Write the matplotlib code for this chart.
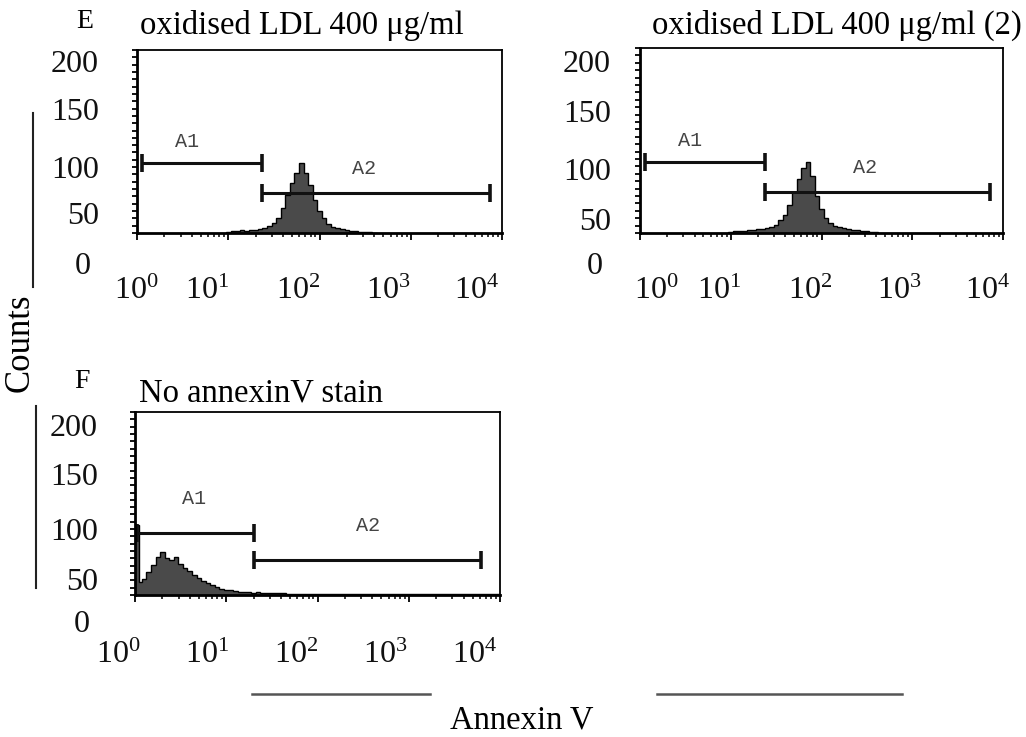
import matplotlib
matplotlib.use('Agg')
import matplotlib.pyplot as plt
from matplotlib.lines import Line2D
import numpy as np

plt.rcParams['font.family'] = ['Liberation Serif', 'DejaVu Serif']
plt.rcParams['mathtext.fontset'] = 'custom'
plt.rcParams['mathtext.rm'] = 'Liberation Serif'

# ---- data (log10 channel, counts) ----
e_chan = [1.00, 1.05, 1.10, 1.15, 1.20, 1.25, 1.30, 1.35, 1.40, 1.45, 1.50,
          1.55, 1.60, 1.65, 1.70, 1.75, 1.80, 1.85, 1.90, 1.95, 2.00, 2.05,
          2.10, 2.15, 2.20, 2.25, 2.30, 2.35, 2.40, 2.45, 2.50, 2.55, 2.60]
e_counts = [1, 2, 2, 3, 2, 3, 3, 4, 6, 8, 11,
            16, 27, 41, 55, 66, 77, 66, 52, 36, 24, 16,
            10, 7, 5, 4, 3, 2, 2, 1, 1, 1, 0]

e2_chan = [1.00, 1.05, 1.10, 1.15, 1.20, 1.25, 1.30, 1.35, 1.40, 1.45, 1.50,
           1.55, 1.60, 1.65, 1.70, 1.75, 1.80, 1.85, 1.90, 1.95, 2.00, 2.05,
           2.10, 2.15, 2.20, 2.25, 2.30, 2.35, 2.40, 2.45, 2.50, 2.55, 2.60]
e2_counts = [1, 2, 2, 2, 3, 3, 4, 4, 5, 7, 9,
             14, 20, 30, 44, 58, 70, 77, 62, 40, 26, 16,
             11, 8, 7, 5, 4, 3, 3, 2, 2, 1, 1]

# first channel is the pile-up spike at the bottom of the scale
f_chan = [0.02, 0.06, 0.10, 0.15, 0.20, 0.25, 0.30, 0.35, 0.40, 0.45, 0.50,
          0.55, 0.60, 0.65, 0.70, 0.75, 0.80, 0.85, 0.90, 0.95, 1.00, 1.05,
          1.10, 1.15, 1.20, 1.25, 1.30, 1.35, 1.40, 1.45, 1.50, 1.60, 1.70,
          1.80, 2.00, 2.20, 2.50, 3.00, 3.50, 3.95]
f_counts = [77, 14, 18, 25, 33, 41, 47, 40, 38, 41, 34,
            29, 26, 22, 19, 15, 13, 11, 9, 7, 6, 5,
            4, 3, 3, 3, 2, 3, 2, 2, 2, 2, 1,
            1, 1, 1, 1, 1, 1, 1]

# gates: (name, start, end, level) and label position
e_gates = [('A1', 1.14, 23.4, 77), ('A2', 23.4, 7400, 44)]
e_gate_labels = [('A1', 3.5, 100), ('A2', 309, 71)]
e2_gates = [('A1', 1.14, 24.0, 77), ('A2', 24.0, 7200, 44)]
e2_gate_labels = [('A1', 3.6, 100), ('A2', 302, 71)]
f_gates = [('A1', 1.05, 20.0, 68), ('A2', 20.0, 6200, 38)]
f_gate_labels = [('A1', 4.4, 106), ('A2', 355, 76)]

y_labels = ['200', '150', '100', '50', '0']
x_labels = [r'$\mathregular{10^{%d}}$' % i for i in range(5)]

W, H = 1026, 737
fig = plt.figure(figsize=(W / 100, H / 100), dpi=100)


def rect(l, t, r, b):
  return [l / W, 1 - b / H, (r - l) / W, (b - t) / H]


def ftext(x, y, s, **kw):
  fig.text(x / W, 1 - y / H, s, **kw)


def fline(xs, ys, **kw):
  fig.add_artist(Line2D([x / W for x in xs], [1 - y / H for y in ys],
                        transform=fig.transFigure, **kw))


# bin edges around the channel centres (log10 space)
def edges_of(chan):
  c = np.array(chan)
  mid = (c[1:] + c[:-1]) / 2
  first = c[0] - (c[1] - c[0]) / 2
  last = c[-1] + (c[-1] - c[-2]) / 2
  return np.concatenate([[first], mid, [last]])


# draw one histogram panel
def panel(box, chan, counts, gates, gate_labels, ylab_x, ylab_y, xlab_x, xlab_y):
  ax = fig.add_axes(rect(*box))
  edges = 10 ** edges_of(chan)
  ax.stairs(counts, edges, fill=True, color='#4a4a4a', lw=0)
  ax.stairs(counts, edges, color='black', lw=1.0)
  ax.set_xscale('log')
  ax.set_xlim(1, 1e4)
  ax.set_ylim(0, 200)
  ax.set_yticks(np.arange(0, 201, 8))
  ax.tick_params(axis='y', direction='out', length=3.5, width=1.3, labelleft=False)
  ax.tick_params(axis='x', which='major', direction='out', length=5, width=1.3,
                 labelbottom=False)
  ax.tick_params(axis='x', which='minor', direction='out', length=3, width=1.1)
  for side in ['left', 'bottom']:
    ax.spines[side].set_linewidth(2)
  for side in ['top', 'right']:
    ax.spines[side].set_linewidth(1.3)

  # gate markers
  for name, a, b, lev in gates:
    ax.plot([a, b], [lev, lev], color='#111111', lw=2.2, solid_capstyle='butt')
    ax.plot([a, b], [lev, lev], ls='none', marker='|', ms=13, mew=2.6,
            color='#111111')
  for name, gx, gy in gate_labels:
    ax.text(gx, gy, name, family='Liberation Mono', fontsize=14.5,
            color='#444444', ha='center', va='center')

  # offset tick labels, as in the scanned figure
  for lab, yy in zip(y_labels, ylab_y):
    xr = ylab_x - 8 if lab == '0' else ylab_x
    ftext(xr, yy, lab, fontsize=23, ha='right', va='center', color='#111111')
  for lab, xx in zip(x_labels, xlab_x):
    ftext(xx, xlab_y, lab, fontsize=23, ha='center', va='baseline',
          color='#111111')
  return ax


panel((137, 50, 502, 233), e_chan, e_counts, e_gates, e_gate_labels,
      99, [65, 113, 171, 217, 267], [136, 207, 298, 388, 477], 299)
panel((640, 48, 1003, 233), e2_chan, e2_counts, e2_gates, e2_gate_labels,
      611, [65, 114, 172, 223, 267], [656, 719, 810, 899, 988], 299)
panel((135, 412, 500, 595), f_chan, f_counts, f_gates, f_gate_labels,
      98, [428, 477, 533, 583, 625], [118, 207, 296, 385, 475], 663)

# titles and panel letters
ftext(302, 34, 'oxidised LDL 400 μg/ml', fontsize=23.5, ha='center',
      va='baseline')
ftext(837, 34, 'oxidised LDL 400 μg/ml (2)', fontsize=23.5, ha='center',
      va='baseline')
ftext(85, 28, 'E', fontsize=20, ha='center', va='baseline')
ftext(261, 402, 'No annexinV stain', fontsize=23.5, ha='center', va='baseline')
ftext(82, 388, 'F', fontsize=20, ha='center', va='baseline')

# axis titles and the stray rules of the original layout
ftext(20, 343, 'Counts', fontsize=25, rotation=90, ha='center', va='center')
ftext(522, 720, 'Annexin V', fontsize=23.5, ha='center', va='center')
fline([33, 33], [113, 287], color='#222222', lw=1.5)
fline([36, 36], [406, 588], color='#222222', lw=1.5)
fline([252, 430], [694, 694], color='#555555', lw=1.8)
fline([657, 902], [694, 694], color='#555555', lw=1.8)

fig.savefig('out.png', dpi=100)
